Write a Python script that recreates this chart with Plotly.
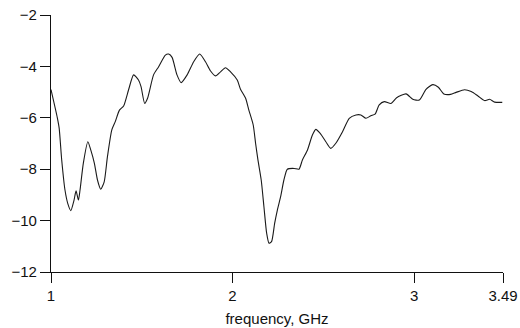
import plotly.graph_objects as go

freq_ghz = [1.0, 1.035, 1.045, 1.059, 1.077, 1.093, 1.109, 1.127, 1.138, 1.151, 1.16, 1.178,
            1.203, 1.219, 1.239, 1.256, 1.274, 1.293, 1.311, 1.335, 1.354, 1.377, 1.40,
            1.427, 1.455, 1.482, 1.496, 1.516, 1.532, 1.565, 1.593, 1.630, 1.648, 1.667,
            1.694, 1.717, 1.750, 1.786, 1.819, 1.851, 1.878, 1.906, 1.934, 1.961, 1.989,
            2.026, 2.044, 2.072, 2.090, 2.114, 2.127, 2.140, 2.158, 2.173, 2.188, 2.201,
            2.215, 2.232, 2.247, 2.265, 2.283, 2.302, 2.339, 2.366, 2.385, 2.413, 2.440,
            2.459, 2.482, 2.514, 2.541, 2.569, 2.606, 2.643, 2.680, 2.707, 2.735, 2.762,
            2.785, 2.808, 2.836, 2.873, 2.904, 2.956, 2.993, 3.029, 3.066, 3.103, 3.134,
            3.164, 3.201, 3.232, 3.278, 3.315, 3.352, 3.389, 3.416, 3.444, 3.486]
response_db = [-4.9, -6.0, -6.4, -7.64, -8.81, -9.35, -9.61, -9.2, -8.84, -9.2, -8.81, -7.77,
               -6.93, -7.25, -7.77, -8.42, -8.78, -8.49, -7.51, -6.47, -6.15, -5.70, -5.54,
               -4.92, -4.33, -4.53, -4.79, -5.44, -5.24, -4.33, -4.01, -3.56, -3.52, -3.65,
               -4.33, -4.63, -4.33, -3.82, -3.52, -3.82, -4.17, -4.37, -4.21, -4.05, -4.21,
               -4.53, -4.89, -5.24, -5.70, -6.28, -6.99, -7.64, -8.42, -9.46, -10.49, -10.88,
               -10.82, -10.11, -9.59, -9.07, -8.42, -8.0, -7.97, -8.0, -7.64, -7.25, -6.67,
               -6.45, -6.60, -6.93, -7.19, -6.99, -6.54, -6.02, -5.89, -5.89, -6.02, -5.92,
               -5.86, -5.50, -5.37, -5.44, -5.22, -5.07, -5.28, -5.31, -4.89, -4.71, -4.81,
               -5.07, -5.09, -5.01, -4.91, -4.98, -5.15, -5.33, -5.28, -5.39, -5.40]

x_ticks = [1, 2, 3, 3.49]
x_tick_labels = ["1", "2", "3", "3.49"]
y_ticks = [-12, -10, -8, -6, -4, -2]
y_tick_labels = ["\u221212", "\u221210", "\u22128", "\u22126", "\u22124", "\u22122"]

fig = go.Figure()
fig.add_trace(go.Scatter(x=freq_ghz, y=response_db, mode="lines",
                         line=dict(color="#1a1a1a", width=1.1, shape="spline", smoothing=0.6),
                         showlegend=False, hoverinfo="skip"))

font = dict(family="Liberation Sans, Arial, sans-serif", size=15, color="#111")
fig.update_layout(
    width=520, height=328,
    margin=dict(l=51, r=17, t=15, b=56, autoexpand=False),
    paper_bgcolor="white", plot_bgcolor="white",
    font=font,
)
fig.update_xaxes(
    range=[1, 3.49], tickmode="array", tickvals=x_ticks, ticktext=x_tick_labels,
    ticks="outside", ticklen=10, tickwidth=1.2, tickcolor="#111",
    showline=True, linecolor="#111", linewidth=1.2, showgrid=False, zeroline=False,
    title=dict(text="frequency, GHz", font=dict(size=15), standoff=10),
    tickfont=font, automargin=False,
)
fig.update_yaxes(
    range=[-12, -2], tickmode="array", tickvals=y_ticks, ticktext=y_tick_labels,
    ticks="outside", ticklen=10, tickwidth=1.2, tickcolor="#111",
    showline=True, linecolor="#111", linewidth=1.2, showgrid=False, zeroline=False,
    tickfont=font, automargin=False,
)
fig.write_html("out.html", config={"displayModeBar": False},
               post_script="document.body.style.margin='0';document.body.style.overflow='hidden';")
